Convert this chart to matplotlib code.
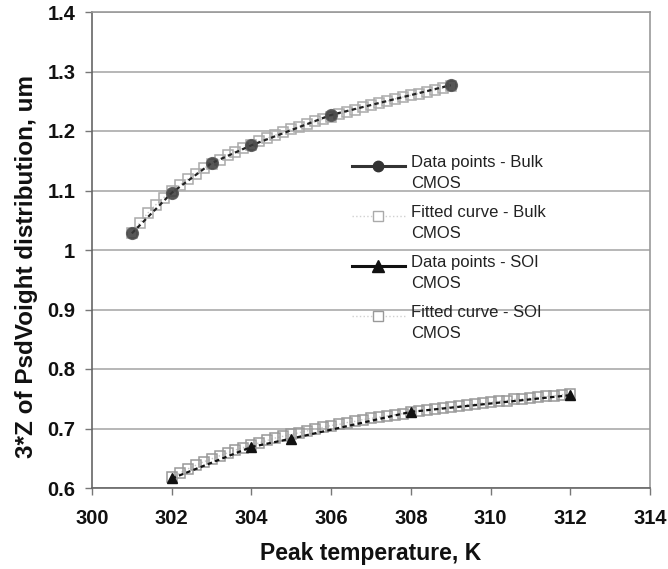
import matplotlib
matplotlib.use("Agg")
import matplotlib.pyplot as plt

plt.rcParams['font.family'] = ['Liberation Sans', 'DejaVu Sans']

# Data points
bulk_x = [301, 302, 303, 304, 306, 309]
bulk_y = [1.028, 1.096, 1.146, 1.176, 1.227, 1.277]
soi_x = [302, 304, 305, 308, 312]
soi_y = [0.616, 0.669, 0.683, 0.728, 0.756]

# Fitted curves
bulk_fit_x = [301.0, 301.2, 301.4, 301.6, 301.8, 302.0, 302.2, 302.4, 302.6, 302.8,
              303.0, 303.2, 303.4, 303.6, 303.8, 304.0, 304.2, 304.4, 304.6, 304.8,
              305.0, 305.2, 305.4, 305.6, 305.8, 306.0, 306.2, 306.4, 306.6, 306.8,
              307.0, 307.2, 307.4, 307.6, 307.8, 308.0, 308.2, 308.4, 308.6, 308.8, 309.0]
bulk_fit_y = [1.028, 1.046, 1.062, 1.076, 1.088, 1.099, 1.109, 1.119, 1.128, 1.137,
              1.145, 1.152, 1.159, 1.165, 1.171, 1.177, 1.183, 1.188, 1.193, 1.198,
              1.203, 1.207, 1.211, 1.216, 1.220, 1.224, 1.228, 1.232, 1.236, 1.240,
              1.243, 1.247, 1.250, 1.254, 1.257, 1.260, 1.263, 1.266, 1.269, 1.272, 1.275]
soi_fit_x = [302.0, 302.2, 302.4, 302.6, 302.8, 303.0, 303.2, 303.4, 303.6, 303.8,
             304.0, 304.2, 304.4, 304.6, 304.8, 305.0, 305.2, 305.4, 305.6, 305.8,
             306.0, 306.2, 306.4, 306.6, 306.8, 307.0, 307.2, 307.4, 307.6, 307.8,
             308.0, 308.2, 308.4, 308.6, 308.8, 309.0, 309.2, 309.4, 309.6, 309.8,
             310.0, 310.2, 310.4, 310.6, 310.8, 311.0, 311.2, 311.4, 311.6, 311.8, 312.0]
soi_fit_y = [0.618, 0.625, 0.632, 0.638, 0.644, 0.649, 0.654, 0.659, 0.664, 0.668,
             0.672, 0.676, 0.680, 0.684, 0.687, 0.690, 0.693, 0.696, 0.699, 0.702,
             0.705, 0.707, 0.710, 0.712, 0.715, 0.717, 0.719, 0.721, 0.723, 0.725,
             0.727, 0.729, 0.731, 0.733, 0.735, 0.736, 0.738, 0.740, 0.741, 0.743,
             0.744, 0.746, 0.747, 0.749, 0.750, 0.751, 0.753, 0.754, 0.755, 0.757, 0.758]

x_ticks = [300, 302, 304, 306, 308, 310, 312, 314]
y_ticks = [0.6, 0.7, 0.8, 0.9, 1.0, 1.1, 1.2, 1.3, 1.4]
y_tick_labels = ["0.6", "0.7", "0.8", "0.9", "1", "1.1", "1.2", "1.3", "1.4"]

legend_labels = ['Data points - Bulk\nCMOS', 'Fitted curve - Bulk\nCMOS',
                 'Data points - SOI\nCMOS', 'Fitted curve - SOI\nCMOS']

W, H = 668, 569
fig = plt.figure(figsize=(W / 100, H / 100), dpi=100)
L, R, T, B = 92, 650, 12, 488
ax = fig.add_axes([L / W, (H - B) / H, (R - L) / W, (B - T) / H])

# fitted curves (underneath)
ax.plot(bulk_fit_x, bulk_fit_y, linestyle=':', color='#c8c8c8', lw=1,
        marker='s', markersize=6.5, markerfacecolor='none', markeredgecolor='#aaaaaa',
        markeredgewidth=1.1, zorder=2)
ax.plot(soi_fit_x, soi_fit_y, linestyle=':', color='#c8c8c8', lw=1,
        marker='s', markersize=6.5, markerfacecolor='none', markeredgecolor='#999999',
        markeredgewidth=1.1, zorder=2)

# dashed dark line through data
ax.plot(bulk_x, bulk_y, linestyle=(0, (2, 1.5)), color='#222222', lw=1.6, zorder=3)
ax.plot(soi_x, soi_y, linestyle=(0, (2, 1.5)), color='#111111', lw=1.6, zorder=3)

# data markers
ax.plot(bulk_x, bulk_y, linestyle='none', marker='o', markersize=8.5,
        markerfacecolor='#3a3a3a', markeredgecolor='#555555', alpha=0.85, zorder=4)
ax.plot(soi_x, soi_y, linestyle='none', marker='^', markersize=7.5,
        markerfacecolor='#111111', markeredgecolor='#111111', zorder=4)

# manual legend (handle aligned with first text line, as in the original)
def ax_x(px):
    return (px - L) / (R - L)

def ax_y(py):
    return (B - py) / (B - T)

styles = [
    dict(color='#333333', lw=2.2, ls='-', marker='o', ms=7.5, mfc='#333333', mec='#333333'),
    dict(color='#d0d0d0', lw=1, ls=':', marker='s', ms=7, mfc='white', mec='#aaaaaa'),
    dict(color='#111111', lw=2.2, ls='-', marker='^', ms=8, mfc='#111111', mec='#111111'),
    dict(color='#d0d0d0', lw=1, ls=':', marker='s', ms=7, mfc='white', mec='#999999'),
]
row_y = [166, 216, 266, 316]
for lab, st, py in zip(legend_labels, styles, row_y):
    ax.plot([ax_x(352), ax_x(405)], [ax_y(py), ax_y(py)], transform=ax.transAxes,
            color=st['color'], lw=st['lw'], ls=st['ls'], clip_on=False, zorder=5)
    ax.plot([ax_x(378)], [ax_y(py)], transform=ax.transAxes, ls='none',
            marker=st['marker'], ms=st['ms'], mfc=st['mfc'], mec=st['mec'],
            clip_on=False, zorder=6)
    ax.text(ax_x(411), ax_y(py - 11), lab, transform=ax.transAxes, ha='left', va='top',
            fontsize=12, color='#222222', linespacing=1.5, zorder=6)

ax.set_xlim(300, 314)
ax.set_ylim(0.6, 1.4)
ax.set_xticks(x_ticks)
ax.set_xticklabels([str(v) for v in x_ticks])
ax.set_yticks(y_ticks)
ax.set_yticklabels(y_tick_labels)
ax.yaxis.grid(True, color='#aaaaaa', lw=1.2)
ax.set_axisbelow(True)

for lab in ax.get_xticklabels() + ax.get_yticklabels():
    lab.set_fontweight('bold')
    lab.set_fontsize(14.5)
    lab.set_color('#111111')

ax.tick_params(axis='both', direction='out', length=5, width=1, color='#777777')
ax.tick_params(axis='x', pad=10)
ax.tick_params(axis='y', pad=7)

for side in ['left', 'bottom']:
    ax.spines[side].set_color('#666666')
    ax.spines[side].set_linewidth(1.2)
for side in ['top', 'right']:
    ax.spines[side].set_color('#999999')
    ax.spines[side].set_linewidth(1.2)

ax.set_xlabel('Peak temperature, K', fontsize=16.5, fontweight='bold', color='#111111', labelpad=10)
ax.set_ylabel('3*Z of PsdVoight distribution, um', fontsize=17.5, fontweight='bold',
              color='#111111')
ax.yaxis.set_label_coords(ax_x(38), ax_y(266))

fig.savefig('out.png', dpi=100)
